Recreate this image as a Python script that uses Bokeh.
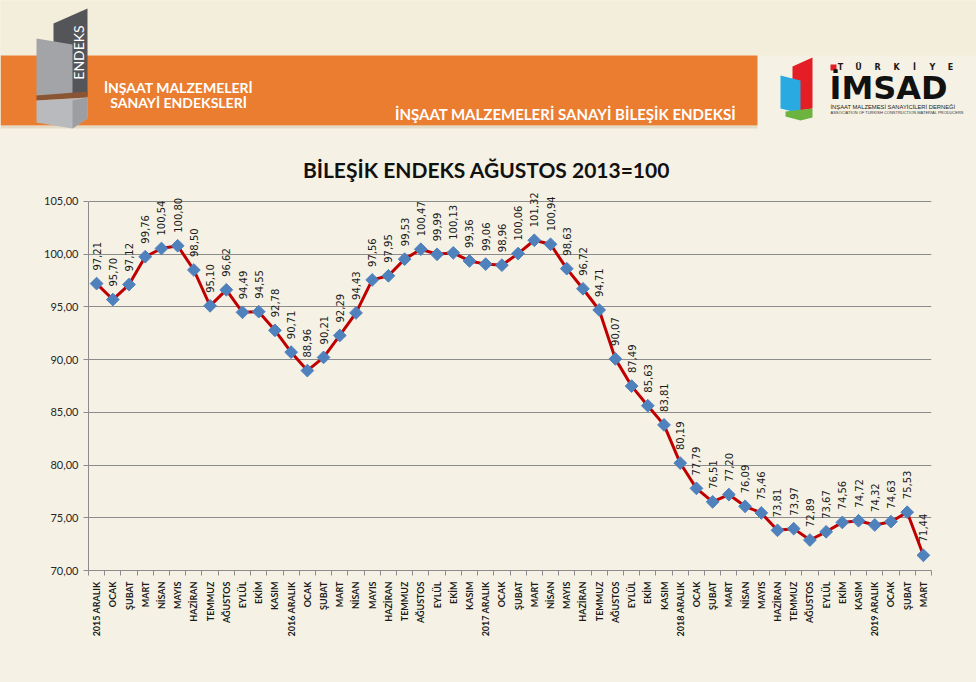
import math
from bokeh.plotting import figure
from bokeh.models import Range1d, FixedTicker, LabelSet, ColumnDataSource
from bokeh.layouts import column
from bokeh.embed import file_html
from bokeh.resources import INLINE
from bokeh.core.properties import value

# ---------------- data ----------------
categories = [
    "2015 ARALIK", "OCAK", "ŞUBAT", "MART", "NİSAN", "MAYIS", "HAZİRAN", "TEMMUZ", "AĞUSTOS", "EYLÜL", "EKİM", "KASIM",
    "2016 ARALIK", "OCAK", "ŞUBAT", "MART", "NİSAN", "MAYIS", "HAZİRAN", "TEMMUZ", "AĞUSTOS", "EYLÜL", "EKİM", "KASIM",
    "2017 ARALIK", "OCAK", "ŞUBAT", "MART", "NİSAN", "MAYIS", "HAZİRAN", "TEMMUZ", "AĞUSTOS", "EYLÜL", "EKİM", "KASIM",
    "2018 ARALIK", "OCAK", "ŞUBAT", "MART", "NİSAN", "MAYIS", "HAZİRAN", "TEMMUZ", "AĞUSTOS", "EYLÜL", "EKİM", "KASIM",
    "2019 ARALIK", "OCAK", "ŞUBAT", "MART",
]
values = [
    97.21, 95.70, 97.12, 99.76, 100.54, 100.80, 98.50, 95.10, 96.62, 94.49, 94.55, 92.78,
    90.71, 88.96, 90.21, 92.29, 94.43, 97.56, 97.95, 99.53, 100.47, 99.99, 100.13, 99.36,
    99.06, 98.96, 100.06, 101.32, 100.94, 98.63, 96.72, 94.71, 90.07, 87.49, 85.63, 83.81,
    80.19, 77.79, 76.51, 77.20, 76.09, 75.46, 73.81, 73.97, 72.89, 73.67, 74.56, 74.72,
    74.32, 74.63, 75.53, 71.44,
]
y_ticks = [70, 75, 80, 85, 90, 95, 100, 105]
y_tick_labels = ["70,00", "75,00", "80,00", "85,00", "90,00", "95,00", "100,00", "105,00"]
chart_title = "BİLEŞİK ENDEKS AĞUSTOS 2013=100"
header_left = ["İNŞAAT MALZEMELERİ", "SANAYİ ENDEKSLERİ"]
header_right = "İNŞAAT MALZEMELERİ SANAYİ BİLEŞİK ENDEKSİ"

BG = "#f5f2e5"
ORANGE = "#EB7D30"
HEADER_H = 186

# ---------------- header (decoration, pixel coordinates) ----------------
h = figure(width=976, height=HEADER_H, x_range=Range1d(0, 976), y_range=Range1d(HEADER_H, 0),
           output_backend="svg", toolbar_location=None, x_axis_type=None, y_axis_type=None,
           title=None, min_border=0, outline_line_color=None,
           background_fill_color=BG, border_fill_color=BG)

h.quad(left=0, right=976, top=0, bottom=55, fill_color="#f3eedb", line_color=None)
h.quad(left=0, right=757, top=55, bottom=125, fill_color=ORANGE, line_color=None)
h.quad(left=0, right=757, top=125, bottom=128, fill_color="#d8ccb0", line_color=None, fill_alpha=0.6)

# left logo blocks
h.patches(
    xs=[[53, 87, 87, 53], [36, 72, 72, 36], [36, 87, 87, 36], [36, 87, 87, 72, 36], [72, 87, 87, 72]],
    ys=[[23, 8, 95, 95], [38, 44, 95, 95], [95, 91, 97, 100], [100, 97, 118, 128, 122], [100, 97, 118, 128]],
    fill_color=["#545558", "#a3a4a7", "#8a5535", "#b9babd", "#9d9ea1"], line_color=None)
h.text(x=[78], y=[52], text=["ENDEKS"], angle=math.pi / 2, text_font=value("Lato"),
       text_font_size="14px", text_color="white", text_align="center", text_baseline="middle")
h.text(x=[178, 178], y=[87, 102], text=header_left, text_font=value("Lato"), text_font_style="bold",
       text_font_size="14px", text_color="white", text_align="center", text_baseline="middle")
h.text(x=[565], y=[113], text=[header_right], text_font=value("Lato"), text_font_style="bold",
       text_font_size="15px", text_color="white", text_align="center", text_baseline="middle")

# right IMSAD logo
h.patches(
    xs=[[792, 812, 812, 792], [780, 800, 800, 780], [785, 812, 812, 800, 785]],
    ys=[[66, 57, 108, 111], [75, 80, 113, 108], [111, 108, 117, 120, 116]],
    fill_color=["#e31e24", "#29abe2", "#6cb33f"], line_color=None)
h.quad(left=830, right=836, top=64, bottom=70, fill_color="#e31e24", line_color=None)
h.text(x=[840, 858, 877, 896, 914, 932, 950], y=[67] * 7, text=list("TÜRKİYE"),
       text_font=value("DejaVu Sans"), text_font_style="bold", text_font_size="8px",
       text_color="#1a1a1a", text_align="center", text_baseline="middle")
h.text(x=[829], y=[87], text=["İMSAD"], text_font=value("DejaVu Sans"), text_font_style="bold",
       text_font_size="32px", text_color="#111111", text_align="left", text_baseline="middle")
h.text(x=[830], y=[106], text=["İNŞAAT MALZEMESİ SANAYİCİLERİ DERNEĞİ"], text_font=value("Liberation Sans"),
       text_font_size="5.8px", text_color="#222222", text_align="left", text_baseline="middle")
h.text(x=[830], y=[112], text=["ASSOCIATION OF TURKISH CONSTRUCTION MATERIAL PRODUCERS"],
       text_font=value("Liberation Sans"), text_font_size="4px", text_color="#333333",
       text_align="left", text_baseline="middle")

# chart title
h.text(x=[486], y=[169], text=[chart_title], text_font=value("Lato"), text_font_style="bold",
       text_font_size="21px", text_color="#111111", text_align="center", text_baseline="middle")

# ---------------- chart ----------------
xs = list(range(len(values)))
labels = [f"{v:.2f}".replace(".", ",") for v in values]
src = ColumnDataSource(dict(x=xs, y=values, lbl=labels))

# top of the y range leaves room for the rotated value labels above the 105 gridline
p = figure(width=976, height=682 - HEADER_H, x_range=Range1d(-0.5, len(values) - 0.5),
           y_range=Range1d(y_ticks[0], 106.42), title=None,
           output_backend="svg", toolbar_location=None,
           min_border_left=88, min_border_right=45, min_border_top=0, min_border_bottom=112,
           background_fill_color=BG, border_fill_color=BG, outline_line_color=None)

p.xgrid.visible = False
p.ygrid.ticker = FixedTicker(ticks=y_ticks)
p.ygrid.grid_line_color = "#8c8c8c"
p.ygrid.grid_line_width = 1

p.yaxis.ticker = FixedTicker(ticks=y_ticks, minor_ticks=[])
p.yaxis.bounds = (y_ticks[0], y_ticks[-1])
p.yaxis.major_label_overrides = {t: l for t, l in zip(y_ticks, y_tick_labels)}
p.yaxis.axis_line_color = "#8c8c8c"
p.yaxis.major_tick_line_color = "#8c8c8c"
p.yaxis.major_tick_out = 5
p.yaxis.major_tick_in = 0
p.yaxis.major_label_standoff = 5
p.yaxis.major_label_text_font = "Lato"
p.yaxis.major_label_text_font_size = "11px"
p.yaxis.major_label_text_color = "#262626"

p.xaxis.ticker = FixedTicker(ticks=xs, minor_ticks=[i - 0.5 for i in range(len(xs) + 1)])
p.xaxis.major_label_overrides = {i: c for i, c in enumerate(categories)}
p.xaxis.major_label_orientation = math.pi / 2
p.xaxis.axis_line_color = "#8c8c8c"
p.xaxis.major_tick_out = 0
p.xaxis.major_tick_in = 0
p.xaxis.minor_tick_out = 5
p.xaxis.minor_tick_in = 0
p.xaxis.minor_tick_line_color = "#8c8c8c"
p.xaxis.major_label_standoff = 6
p.xaxis.major_label_text_font = "Lato"
p.xaxis.major_label_text_font_style = "bold"
p.xaxis.major_label_text_font_size = "9px"
p.xaxis.major_label_text_color = "#1a1a1a"

p.line("x", "y", source=src, line_color="#C00000", line_width=3)
p.scatter("x", "y", source=src, marker="square", angle=math.pi / 4, size=9,
          fill_color="#4F81BD", line_color="#4F81BD")
p.add_layout(LabelSet(x="x", y="y", text="lbl", source=src, angle=math.pi / 2,
                      text_align="left", text_baseline="middle", y_offset=13,
                      text_font=value("DejaVu Sans"), text_font_size="10px", text_color="#1a1a1a"))

layout = column(column(h, styles={"background-color": BG}), p, styles={"background-color": BG})
open("out.html", "w").write(file_html(layout, INLINE))
